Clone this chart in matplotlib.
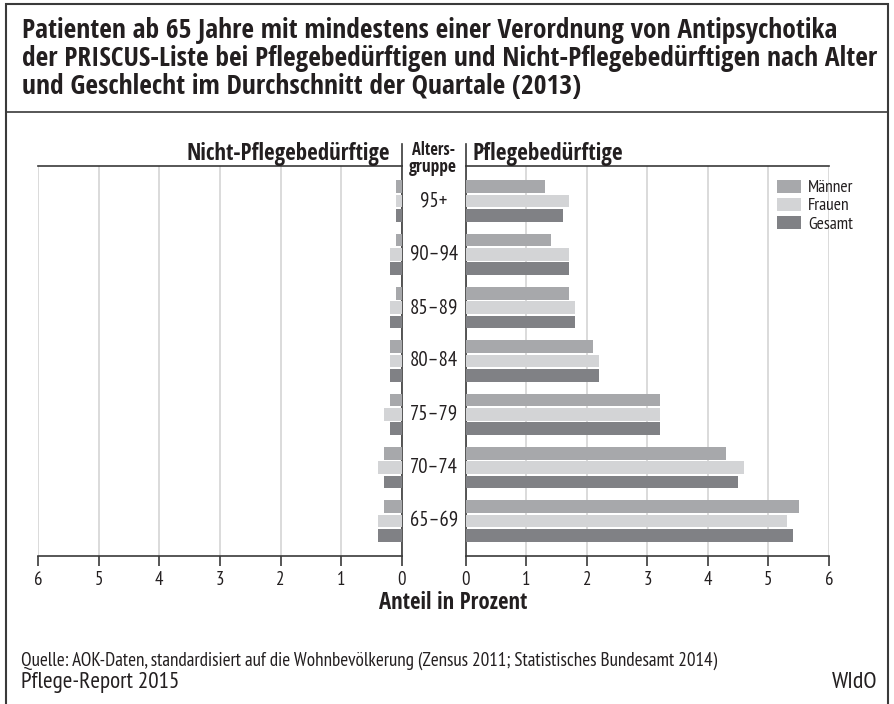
#Import the required packages
import matplotlib
matplotlib.use("Agg")
import matplotlib.pyplot as plt
import matplotlib.transforms as mtransforms
from matplotlib import font_manager as fm
from matplotlib.lines import Line2D
from matplotlib.patches import Rectangle
import numpy as np

#Data (percent)
age_groups = ["65–69", "70–74", "75–79", "80–84", "85–89", "90–94", "95+"]
pflege_maenner = [5.5, 4.3, 3.2, 2.1, 1.7, 1.4, 1.3]
pflege_frauen = [5.3, 4.6, 3.2, 2.2, 1.8, 1.7, 1.7]
pflege_gesamt = [5.4, 4.5, 3.2, 2.2, 1.8, 1.7, 1.6]
nicht_maenner = [0.3, 0.3, 0.2, 0.2, 0.1, 0.1, 0.1]
nicht_frauen = [0.4, 0.4, 0.3, 0.2, 0.2, 0.2, 0.1]
nicht_gesamt = [0.4, 0.3, 0.2, 0.2, 0.2, 0.2, 0.1]
series_names = ["Männer", "Frauen", "Gesamt"]
ticks = [0, 1, 2, 3, 4, 5, 6]

#Styles
colors = ["#a7a8ab", "#d3d4d6", "#808185"]
text_col = "#231f20"
line_col = "#3a3a3a"
grid_col = "#d4d4d4"

#Fonts: condensed bold for headings, a narrow regular face for the rest
def find_font(name, stretch=None, weight=None):
    for f in fm.fontManager.ttflist:
        if f.name != name or f.style != "normal":
            continue
        if (stretch is None or f.stretch == stretch) and (weight is None or f.weight == weight):
            return fm.FontProperties(fname=f.fname)
    return None

bold_fp = find_font("Open Sans Condensed", weight=700) or fm.FontProperties(family="DejaVu Sans", weight="bold")
reg_fp = (find_font("PT Sans Narrow", weight=400) or find_font("Open Sans", stretch="normal", weight=400)
          or fm.FontProperties(family="DejaVu Sans"))

W, H = 895, 704
fig = plt.figure(figsize=(W / 100, H / 100), dpi=100)
renderer = fig.canvas.get_renderer()

def fx(px):
    return px / W

def fy(py):
    return 1 - py / H

def fit(t, width):
    #scale the font so the text is as wide as in the reference
    bb = t.get_window_extent(renderer)
    t.set_fontsize(t.get_fontsize() * width / bb.width)

def label(x, y, s, fp, size, width=None, **kw):
    t = fig.text(fx(x), fy(y), s, fontproperties=fp, color=text_col, **kw)
    t.set_fontsize(size)
    if width:
        fit(t, width)
    return t

#Frame and title
fig.add_artist(Rectangle((fx(6), fy(H + 5)), fx(888 - 6), (H + 5 - 4) / H, transform=fig.transFigure,
                         fill=False, edgecolor=line_col, lw=1.5))
fig.add_artist(Line2D([fx(6), fx(888)], [fy(112), fy(112)], transform=fig.transFigure,
                      color=line_col, lw=1.2))
title_lines = ["Patienten ab 65 Jahre mit mindestens einer Verordnung von Antipsychotika",
               "der PRISCUS-Liste bei Pflegebedürftigen und Nicht-Pflegebedürftigen nach Alter",
               "und Geschlecht im Durchschnitt der Quartale (2013)"]
t2 = label(22, 66, title_lines[1], bold_fp, 18, width=856, ha="left", va="baseline")
label(22, 38, title_lines[0], bold_fp, t2.get_fontsize(), ha="left", va="baseline")
label(22, 94, title_lines[2], bold_fp, t2.get_fontsize(), ha="left", va="baseline")

#Axes
top, bottom = 166, 556
ax_l = fig.add_axes([fx(38), fy(bottom), fx(402 - 38), (bottom - top) / H])
ax_r = fig.add_axes([fx(466), fy(bottom), fx(829 - 466), (bottom - top) / H])

y = np.arange(len(age_groups))
pitch = 0.27
hgt = 0.24
left_data = [nicht_maenner, nicht_frauen, nicht_gesamt]
right_data = [pflege_maenner, pflege_frauen, pflege_gesamt]

for i in range(3):
    off = (1 - i) * pitch
    ax_l.barh(y + off, left_data[i], height=hgt, color=colors[i], zorder=3)
    ax_r.barh(y + off, right_data[i], height=hgt, color=colors[i], zorder=3, label=series_names[i])

for ax in (ax_l, ax_r):
    ax.set_ylim(-0.656, len(age_groups) - 1 + 0.656)
    ax.set_xticks(ticks)
    ax.set_xticklabels([str(t) for t in ticks], fontproperties=reg_fp)
    ax.set_yticks([])
    ax.grid(axis="x", color=grid_col, lw=1.2, zorder=0)
    ax.tick_params(axis="x", direction="out", length=7, width=1.2, color=line_col,
                   labelsize=13.5, labelcolor=text_col, pad=4)
    for sp in ("top", "bottom"):
        ax.spines[sp].set_color(line_col)
        ax.spines[sp].set_linewidth(1.2)

ax_l.set_xlim(6, 0)
ax_r.set_xlim(0, 6)
ax_l.spines["left"].set_visible(False)
ax_l.spines["right"].set_color(line_col)
ax_l.spines["right"].set_linewidth(1.2)
ax_r.spines["right"].set_visible(False)
ax_r.spines["left"].set_color(line_col)
ax_r.spines["left"].set_linewidth(1.2)

#Separators above the axes
for px in (402, 466):
    fig.add_artist(Line2D([fx(px), fx(px)], [fy(144), fy(top)], transform=fig.transFigure,
                          color=line_col, lw=1.2))

#Headers
label(390, 160, "Nicht-Pflegebedürftige", bold_fp, 15, width=203, ha="right", va="baseline")
label(473, 160, "Pflegebedürftige", bold_fp, 15, width=150, ha="left", va="baseline")
label(434, 155, "Alters-", bold_fp, 11, width=43, ha="center", va="baseline")
label(433, 172, "gruppe", bold_fp, 11, width=48, ha="center", va="baseline")

#Age group labels
trans = mtransforms.blended_transform_factory(fig.transFigure, ax_r.transData)
for yi, lab in zip(y, age_groups):
    t = ax_r.text(fx(434), yi, lab, transform=trans, ha="center", va="center",
                  fontproperties=reg_fp, color=text_col)
    t.set_fontsize(13)
    if lab == "90–94":
        age_size = t.get_fontsize() * 48 / t.get_window_extent(renderer).width
for t in ax_r.texts:
    t.set_fontsize(age_size)

label(453, 609, "Anteil in Prozent", bold_fp, 14, width=149, ha="center", va="baseline")

#Legend (boxes and names)
leg_size = None
for i, name in enumerate(series_names):
    cy = 186 + i * 18.5
    fig.add_artist(Rectangle((fx(777), fy(cy + 6.5)), fx(24), 13 / H, transform=fig.transFigure,
                             facecolor=colors[i], edgecolor="none"))
    t = label(808, cy, name, reg_fp, leg_size or 11, width=None if leg_size else 46,
              ha="left", va="center_baseline")
    leg_size = t.get_fontsize()

#Footer
label(21, 666, "Quelle: AOK-Daten, standardisiert auf die Wohnbevölkerung "
      "(Zensus 2011; Statistisches Bundesamt 2014)", reg_fp, 11, width=700, ha="left", va="baseline")
label(21, 688, "Pflege-Report 2015", reg_fp, 13, width=157, ha="left", va="baseline")
label(877, 688, "WIdO", reg_fp, 13, width=45, ha="right", va="baseline")

fig.savefig("out.png", dpi=100)
